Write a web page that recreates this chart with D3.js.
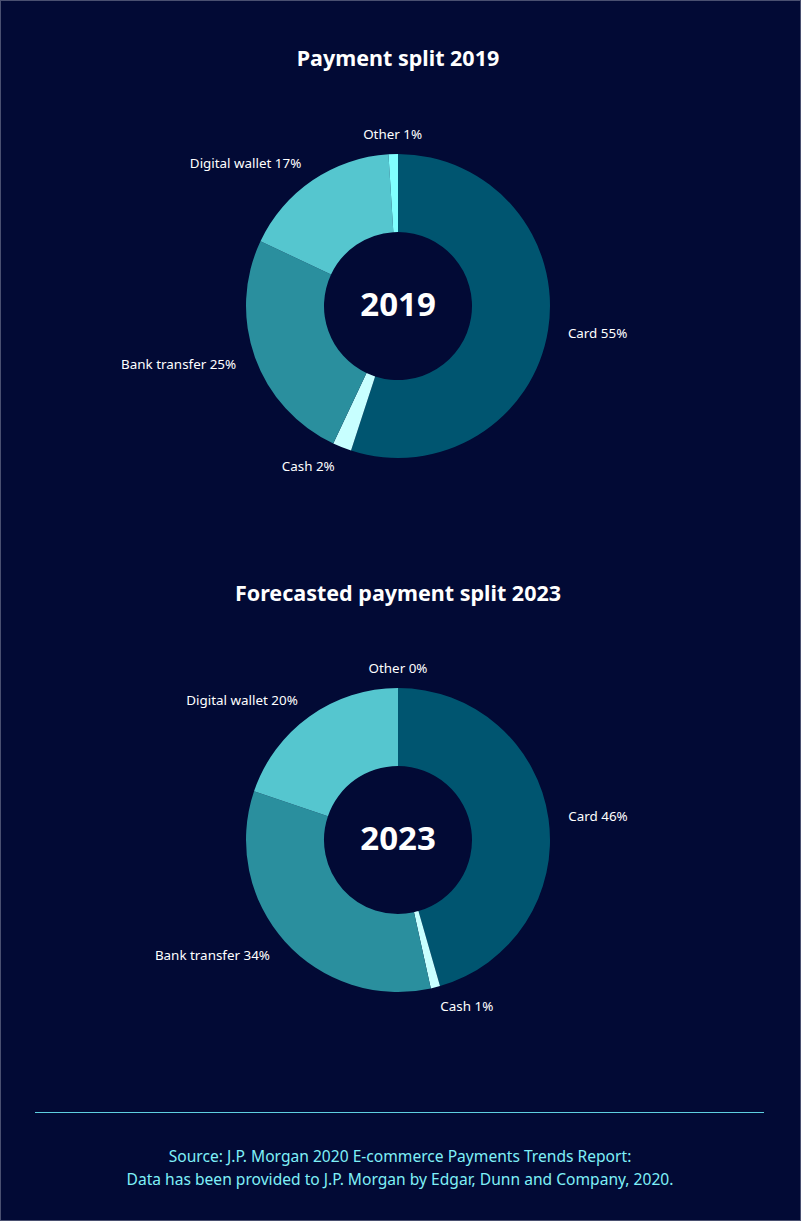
<!DOCTYPE html>
<html lang="en">
<head>
    <meta charset="UTF-8">
    <title>Payment split</title>
    <script src="https://cdnjs.cloudflare.com/ajax/libs/d3/7.8.5/d3.min.js"></script>
    <style>
        body {
            margin: 0;
            background-color: #020a35;
        }
        svg {
            display: block;
        }
        .title {
            font-family: "Noto Sans", sans-serif;
            font-weight: 700;
            font-size: 21.5px;
            fill: #ffffff;
        }
        .label {
            font-family: "Noto Sans", sans-serif;
            font-size: 13.4px;
            fill: #ffffff;
        }
        .year {
            font-family: "Noto Sans", sans-serif;
            font-weight: 700;
            font-size: 33px;
            fill: #ffffff;
        }
        .source {
            font-family: "Noto Sans", sans-serif;
            font-size: 15.6px;
            fill: #7ff0f8;
        }
    </style>
</head>
<body>
<svg width="801" height="1221"></svg>

<script>
    // Data
    const categories = ["Card", "Cash", "Bank transfer", "Digital wallet", "Other"];
    const values2019 = [55, 2, 25, 17, 1];
    const values2023 = [46, 1, 34, 20, 0];
    const colors = ["#005570", "#c8ffff", "#2a8f9e", "#55c6cf", "#80ffff"];
    const charts = [
        { title: "Payment split 2019", year: "2019", values: values2019 },
        { title: "Forecasted payment split 2023", year: "2023", values: values2023 }
    ];
    const sourceLines = [
        "Source: J.P. Morgan 2020 E-commerce Payments Trends Report:",
        "Data has been provided to J.P. Morgan by Edgar, Dunn and Company, 2020."
    ];

    const W = 801, H = 1221;
    const svg = d3.select("svg");

    // border
    svg.append("rect")
        .attr("x", 0.5).attr("y", 0.5)
        .attr("width", W - 1).attr("height", H - 1)
        .attr("fill", "#020a35")
        .attr("stroke", "#4a5070");

    const outerR = 152, innerR = 74, labelR = 172;
    const cx = 398;
    const centers = [306, 840];
    const titleY = [66, 601];

    const color = d3.scaleOrdinal().domain(categories).range(colors);
    const pie = d3.pie().sort(null).value(d => d.value);
    const arc = d3.arc().innerRadius(innerR).outerRadius(outerR);
    const labelArc = d3.arc().innerRadius(labelR).outerRadius(labelR);

    charts.forEach((c, i) => {
        svg.append("text")
            .attr("class", "title")
            .attr("x", cx)
            .attr("y", titleY[i])
            .attr("text-anchor", "middle")
            .text(c.title);

        const g = svg.append("g")
            .attr("transform", `translate(${cx},${centers[i]})`);

        const data = categories.map((k, j) => ({ key: k, value: c.values[j] }));
        const arcs = pie(data);

        g.selectAll("path")
            .data(arcs)
            .enter()
            .append("path")
            .attr("d", arc)
            .attr("fill", d => color(d.data.key));

        g.selectAll("text.label")
            .data(arcs)
            .enter()
            .append("text")
            .attr("class", "label")
            .attr("transform", d => {
                const p = labelArc.centroid(d);
                return `translate(${p[0]},${p[1]})`;
            })
            .attr("dy", "0.35em")
            .attr("text-anchor", d => {
                const p = labelArc.centroid(d);
                if (Math.abs(p[0]) < 20) return "middle";
                return p[0] > 0 ? "start" : "end";
            })
            .text(d => `${d.data.key} ${d.data.value}%`);

        g.append("text")
            .attr("class", "year")
            .attr("text-anchor", "middle")
            .attr("y", -2)
            .attr("dy", "0.35em")
            .text(c.year);
    });

    // footer
    svg.append("line")
        .attr("x1", 35).attr("x2", 764)
        .attr("y1", 1112.5).attr("y2", 1112.5)
        .attr("stroke", "#5ecfe0")
        .attr("stroke-width", 1);

    svg.selectAll("text.source")
        .data(sourceLines)
        .enter()
        .append("text")
        .attr("class", "source")
        .attr("x", 400)
        .attr("y", (d, i) => 1162 + i * 23)
        .attr("text-anchor", "middle")
        .text(d => d);
</script>
</body>
</html>
